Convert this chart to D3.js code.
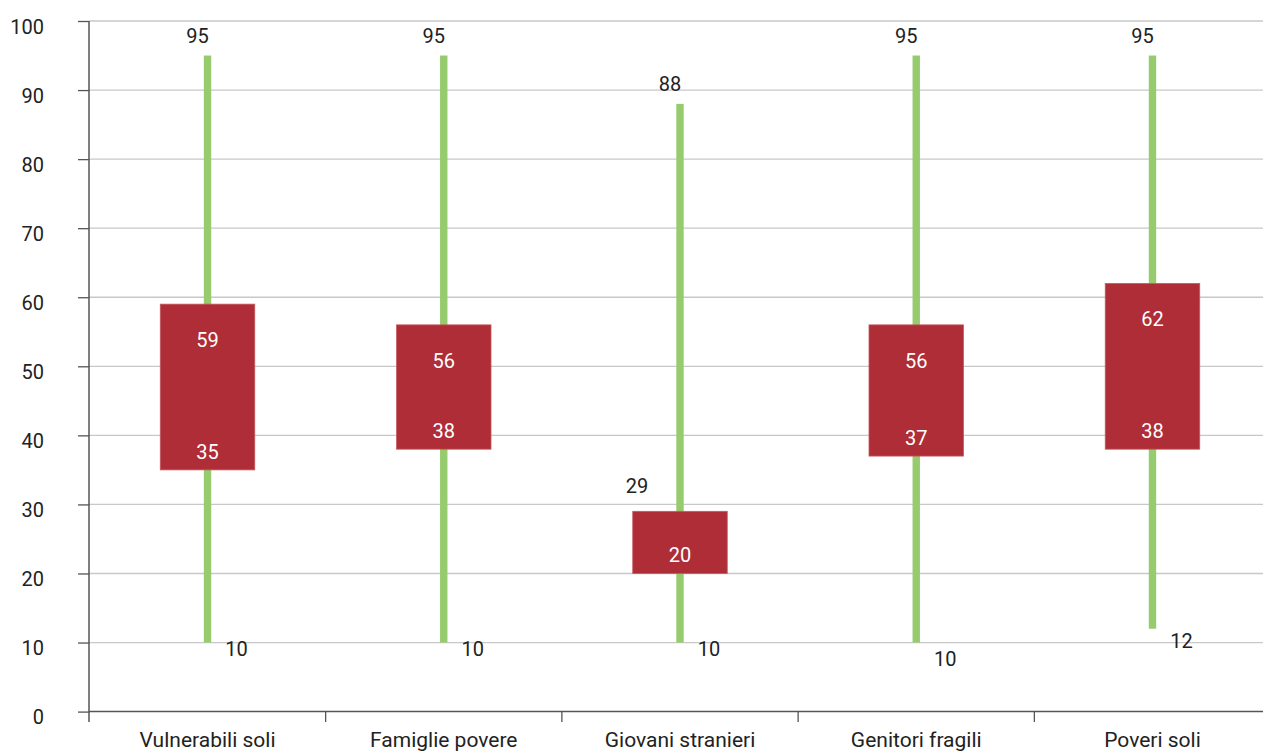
<!DOCTYPE html>
<html><head><meta charset="utf-8">
<script src="https://cdn.jsdelivr.net/npm/d3@7"></script>
<style>
html,body{margin:0;padding:0;background:#fff;}
svg text{font-family:Roboto,"Noto Sans",sans-serif;}
</style></head>
<body><svg id="c" width="1263" height="754"></svg>
<script>
const categories = ["Vulnerabili soli","Famiglie povere","Giovani stranieri","Genitori fragili","Poveri soli"];
const lowValues  = [10,10,10,10,12];
const q1Values   = [35,38,20,37,38];
const q3Values   = [59,56,29,56,62];
const highValues = [95,95,88,95,95];
const yTicks = [0,10,20,30,40,50,60,70,80,90,100];

// layout-only label nudges (px) for the low-value labels
const lowLabelDy = [13,13,13,23,19];

const svg = d3.select("#c");
const W = 1263, H = 754;
const x = d3.scaleBand().domain(categories).range([89.4, 1270.6]);
const y = d3.scaleLinear().domain([0,100]).range([711.6, 21]);
const axisX = 89;

// gridlines
svg.append("g").selectAll("line").data(yTicks.filter(d=>d>0)).join("line")
  .attr("x1", axisX).attr("x2", W).attr("y1", d=>y(d)).attr("y2", d=>y(d))
  .attr("stroke", "#c8c8c8").attr("stroke-width", 1.3);

// y axis
const ya = svg.append("g").attr("transform", `translate(${axisX},0)`)
  .call(d3.axisLeft(y).tickValues(yTicks).tickSize(11).tickPadding(34).tickFormat(d3.format("d")));
ya.select(".domain").remove();
ya.selectAll(".tick line").attr("stroke", "#555").attr("stroke-width", 1.3);
ya.selectAll(".tick text").attr("font-size", 20).attr("fill", "#222").attr("dy", "0.6em")
  .attr("font-family", "Roboto");
svg.append("line").attr("x1", axisX).attr("x2", axisX).attr("y1", y(100)).attr("y2", 722)
  .attr("stroke", "#555").attr("stroke-width", 1.5);

// x axis
const xa = svg.append("g").attr("transform", `translate(0,${y(0)})`)
  .call(d3.axisBottom(x).tickSize(0).tickPadding(0));
xa.select(".domain").remove();
xa.selectAll(".tick text").attr("font-size", 21).attr("fill", "#222").attr("y", 35.5).attr("dy", 0)
  .attr("font-family", "Roboto");
svg.append("line").attr("x1", axisX).attr("x2", W).attr("y1", y(0)).attr("y2", y(0))
  .attr("stroke", "#555").attr("stroke-width", 1.5);
svg.append("g").selectAll("line").data(categories.slice(1)).join("line")
  .attr("x1", d=>x(d)).attr("x2", d=>x(d)).attr("y1", y(0)).attr("y2", 722)
  .attr("stroke", "#555").attr("stroke-width", 1.3);

const data = categories.map((c,i)=>({c, low:lowValues[i], q1:q1Values[i], q3:q3Values[i], high:highValues[i], i}));
const cx = d => x(d.c) + x.bandwidth()/2;
const boxW = x.bandwidth()*0.4;

// whiskers
svg.append("g").selectAll("rect").data(data).join("rect")
  .attr("x", d=>cx(d)-3.7).attr("width", 7.4)
  .attr("y", d=>y(d.high)).attr("height", d=>y(d.low)-y(d.high))
  .attr("fill", "#96cb6e");

// boxes
svg.append("g").selectAll("rect").data(data).join("rect")
  .attr("x", d=>cx(d)-boxW/2).attr("width", boxW)
  .attr("y", d=>y(d.q3)).attr("height", d=>y(d.q1)-y(d.q3))
  .attr("fill", "#ae2d36").attr("stroke", "#c45a60").attr("stroke-width", 0.8);

const lab = svg.append("g").attr("font-size", 20).attr("text-anchor", "middle");
// high labels
lab.selectAll(".hi").data(data).join("text").attr("class","hi")
  .attr("x", d=>cx(d)-10).attr("y", d=>y(d.high)-13).attr("fill","#222").text(d=>d.high);
// low labels
lab.selectAll(".lo").data(data).join("text").attr("class","lo")
  .attr("x", d=>cx(d)+29).attr("y", d=>y(d.low)+lowLabelDy[d.i]).attr("fill","#222").text(d=>d.low);
// q3 labels
lab.selectAll(".q3").data(data).join("text").attr("class","q3")
  .each(function(d){
    const small = (y(d.q1)-y(d.q3)) < 80;
    d3.select(this)
      .attr("x", small ? cx(d)-43 : cx(d))
      .attr("y", small ? y(d.q3)-18 : y(d.q3)+43)
      .attr("fill", small ? "#222" : "#fff").text(d.q3);
  });
// q1 labels
lab.selectAll(".q1").data(data).join("text").attr("class","q1")
  .attr("x", d=>cx(d)).attr("y", d=>y(d.q1)-11).attr("fill","#fff").text(d=>d.q1);
</script></body></html>
